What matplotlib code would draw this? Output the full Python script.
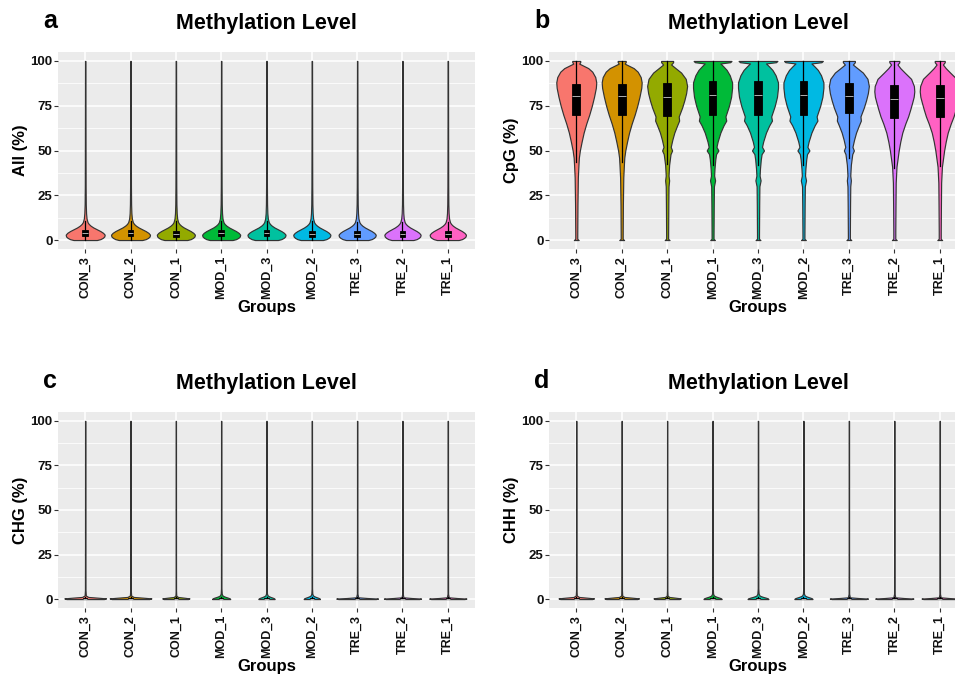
import numpy as np
import matplotlib
matplotlib.use('Agg')
import matplotlib.pyplot as plt

plt.rcParams['font.family'] = ['Liberation Sans', 'DejaVu Sans']

groups = ['CON_3', 'CON_2', 'CON_1', 'MOD_1', 'MOD_3', 'MOD_2', 'TRE_3', 'TRE_2', 'TRE_1']
colors = ['#F8766D', '#D39200', '#93AA00', '#00BA38', '#00C19F', '#00B9E3', '#619CFF', '#DB72FB', '#FF61C3']

# violin outlines: level (%) and relative half width
all_y = [0, 0.5, 1.2, 2, 3, 4, 5, 6, 7, 8, 9, 10, 12, 15, 20, 30, 50, 75, 100]
all_rel = [0.6, 0.78, 0.9, 0.98, 1.0, 0.92, 0.78, 0.6, 0.42, 0.28, 0.18, 0.12, 0.07, 0.045, 0.03, 0.022, 0.018, 0.015, 0.012]

con_y = [0, 0.7, 3, 20, 35, 42, 46, 50, 55, 60, 65, 70, 75, 80, 85, 88, 91, 94, 96, 98.5, 99.4, 100]
con_rel = [0.12, 0.05, 0.05, 0.06, 0.08, 0.11, 0.13, 0.18, 0.27, 0.37, 0.5, 0.65, 0.78, 0.89, 0.98, 1.0, 0.95, 0.8, 0.6, 0.15, 0.2, 0.2]

bumpy_y = [0, 0.7, 3, 20, 30, 33.3, 36, 42, 48, 50, 52, 56, 60, 64, 66.7, 69, 74, 78, 82, 86, 90, 93.5, 96, 98, 99.3, 100]
bumpy_rel = [0.12, 0.05, 0.05, 0.06, 0.07, 0.1, 0.07, 0.1, 0.17, 0.25, 0.18, 0.26, 0.36, 0.5, 0.6, 0.58, 0.75, 0.86, 0.95, 1.0, 0.93, 0.7, 0.42, 0.2, 0.3, 0.3]

mod_y = [0, 0.7, 3, 20, 30, 33.3, 36, 40, 45, 48, 50, 52, 55, 60, 64, 66.7, 69, 75, 80, 85, 88, 92, 95, 97, 98.6, 99.3, 100]
mod_rel = [0.12, 0.05, 0.05, 0.06, 0.07, 0.13, 0.08, 0.1, 0.14, 0.18, 0.3, 0.2, 0.26, 0.4, 0.56, 0.7, 0.66, 0.84, 0.95, 1.0, 1.0, 0.88, 0.72, 0.55, 0.4, 0.9, 0.97]

tre_y = [0, 0.7, 5, 20, 32, 41, 50, 55, 60, 65, 69, 73, 77, 80, 83, 86, 90, 93.5, 96, 98, 99.3, 100]
tre_rel = [0.12, 0.05, 0.05, 0.06, 0.07, 0.11, 0.22, 0.3, 0.4, 0.55, 0.69, 0.8, 0.9, 0.97, 1.0, 0.98, 0.84, 0.52, 0.3, 0.16, 0.25, 0.25]

flat_y = [0, 0.4, 0.8, 1.2, 2, 5, 30, 100]
flat_rel = [0.9, 1.0, 0.6, 0.15, 0.03, 0.015, 0.012, 0.01]
hump_y = [0, 0.4, 0.8, 1.2, 1.6, 2.0, 3, 6, 30, 100]
hump_rel = [1.0, 0.95, 0.75, 0.5, 0.3, 0.15, 0.06, 0.03, 0.025, 0.02]
thin_y = [0, 0.3, 0.6, 1.0, 3, 30, 100]
thin_rel = [0.9, 1.0, 0.5, 0.05, 0.015, 0.01, 0.01]

profiles = {
    'all': (all_y, all_rel), 'con': (con_y, con_rel), 'bumpy': (bumpy_y, bumpy_rel),
    'mod': (mod_y, mod_rel), 'tre': (tre_y, tre_rel), 'flat': (flat_y, flat_rel),
    'hump': (hump_y, hump_rel), 'thin': (thin_y, thin_rel),
}

# per panel: which outline each group uses and its max half width (x units)
all_shape = ['all'] * 9
all_half = [0.43, 0.43, 0.42, 0.42, 0.42, 0.41, 0.41, 0.40, 0.40]
cpg_shape = ['con', 'con', 'bumpy', 'mod', 'mod', 'mod', 'bumpy', 'tre', 'tre']
cpg_half = [0.44, 0.44, 0.44, 0.43, 0.44, 0.44, 0.44, 0.44, 0.44]
chg_shape = ['flat', 'flat', 'flat', 'hump', 'hump', 'hump', 'thin', 'thin', 'thin']
chg_half = [0.46, 0.46, 0.30, 0.20, 0.18, 0.18, 0.46, 0.41, 0.41]
chh_shape = ['flat', 'flat', 'flat', 'hump', 'hump', 'hump', 'thin', 'thin', 'thin']
chh_half = [0.39, 0.38, 0.30, 0.20, 0.23, 0.20, 0.42, 0.42, 0.40]

# box statistics
all_q1 = [2.0, 2.0, 1.9, 2.0, 2.0, 1.9, 1.9, 1.8, 1.8]
all_med = [3.7, 3.7, 3.6, 3.7, 3.7, 3.6, 3.5, 3.4, 3.4]
all_q3 = [5.5, 5.5, 5.3, 5.5, 5.5, 5.3, 5.2, 5.0, 5.0]
all_lo = [0] * 9
all_hi = [10.7, 10.7, 10.4, 10.7, 10.7, 10.4, 10.2, 9.8, 9.8]

cpg_q1 = [69.7, 69.7, 69.2, 70.1, 70.1, 70.1, 71.0, 67.9, 68.6]
cpg_med = [80.4, 80.4, 80.0, 80.9, 81.0, 81.0, 80.7, 78.5, 79.1]
cpg_q3 = [87.3, 87.3, 87.9, 88.8, 88.8, 88.8, 87.9, 86.4, 86.7]
cpg_lo = [43.6, 43.6, 42.2, 42.1, 42.1, 42.1, 45.7, 40.1, 41.4]
cpg_hi = [100] * 9

low_q1 = [0] * 9
low_med = [0.2] * 9
low_q3 = [0.5] * 9
low_lo = [0] * 9
low_hi = [1.2] * 9

W, H = 955, 677
fig = plt.figure(figsize=(W / 100, H / 100), dpi=100)


def panel(left, top, right, bottom, letter, ylab, shape, half, q1, med, q3, lo, hi, bw):
    ax = fig.add_axes([left / W, 1 - bottom / H, (right - left) / W, (bottom - top) / H])
    ax.set_facecolor('#EBEBEB')
    for s in ax.spines.values():
        s.set_visible(False)
    ax.set_xlim(0.4, 9.6)
    ax.set_ylim(-5, 105)
    pos = np.arange(1, 10)
    ax.set_xticks(pos, groups, rotation=90, fontweight='bold', fontsize=9)
    ax.set_yticks([0, 25, 50, 75, 100], ['0', '25', '50', '75', '100'], fontweight='bold', fontsize=9.5)
    ax.set_yticks([12.5, 37.5, 62.5, 87.5], minor=True)
    ax.tick_params(axis='both', which='major', length=3, width=0.8, color='#333333', labelcolor='#111111')
    ax.tick_params(axis='y', pad=1)
    ax.tick_params(axis='x', pad=2)
    ax.tick_params(which='minor', length=0)
    ax.grid(which='major', color='white', lw=1.1)
    ax.grid(which='minor', axis='y', color='white', lw=0.55)
    ax.set_axisbelow(True)

    for i in range(9):
        yy, rel = profiles[shape[i]]
        hw = np.array(rel) * half[i]
        ax.fill_betweenx(yy, pos[i] - hw, pos[i] + hw, facecolor=colors[i],
                         edgecolor='#333333', lw=0.85, zorder=2)

    stats = [dict(med=med[i], q1=q1[i], q3=q3[i], whislo=lo[i], whishi=hi[i], fliers=[])
             for i in range(9)]
    ax.bxp(stats, positions=pos, widths=bw, patch_artist=True, showfliers=False,
           showcaps=False, manage_ticks=False, zorder=3,
           boxprops=dict(facecolor='black', edgecolor='black', lw=0.6),
           medianprops=dict(color='#cccccc', lw=0.6),
           whiskerprops=dict(color='black', lw=0.9))

    cx = (left + right) / 2
    fig.text(cx / W, 1 - (top - 23) / H, 'Methylation Level', ha='center', va='baseline',
             fontsize=15.5, fontweight='bold')
    fig.text((left - 15) / W, 1 - (top - 24) / H, letter, ha='left', va='baseline',
             fontsize=18, fontweight='bold')
    fig.text((left - 37.5) / W, 1 - ((top + bottom) / 2) / H, ylab, rotation=90,
             ha='center', va='center', fontsize=12, fontweight='bold')
    fig.text(cx / W, 1 - (bottom + 63) / H, 'Groups', ha='center', va='baseline',
             fontsize=12, fontweight='bold')
    return ax


panel(58, 52, 475, 249, 'a', 'All (%)', all_shape, all_half,
      all_q1, all_med, all_q3, all_lo, all_hi, 0.12)
panel(549, 52, 967, 249, 'b', 'CpG (%)', cpg_shape, cpg_half,
      cpg_q1, cpg_med, cpg_q3, cpg_lo, cpg_hi, 0.17)
panel(58, 412, 475, 608, 'c', 'CHG (%)', chg_shape, chg_half,
      low_q1, low_med, low_q3, low_lo, low_hi, 0.1)
panel(549, 412, 967, 608, 'd', 'CHH (%)', chh_shape, chh_half,
      low_q1, low_med, low_q3, low_lo, low_hi, 0.1)

fig.savefig('out.png', dpi=100, facecolor='white')
